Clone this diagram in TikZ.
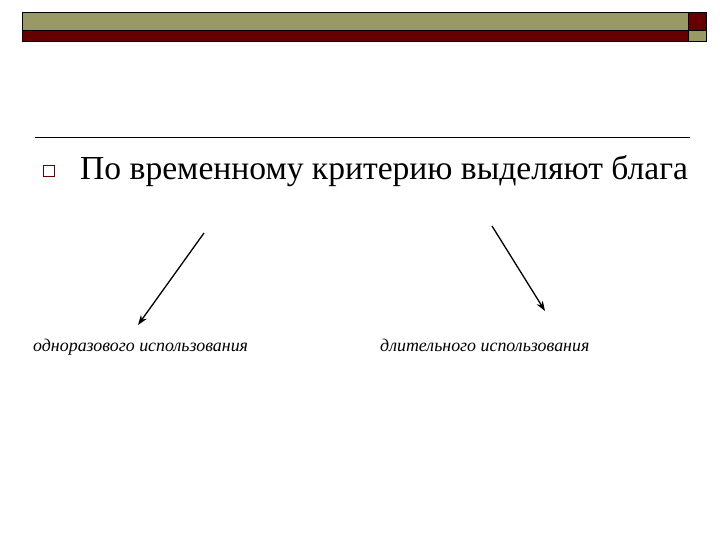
\documentclass[tikz,border=0pt]{standalone}
\usepackage{fontspec}
\setmainfont{Liberation Serif}
\usetikzlibrary{arrows.meta}
\definecolor{olive}{RGB}{153,153,102}
\definecolor{darkred}{RGB}{102,0,0}
\begin{document}
\begin{tikzpicture}[x=1pt,y=-1pt,
  bar/.style={draw=black,line width=0.8pt},
  arr/.style={draw=black,line width=1.3pt,-{Stealth[length=10pt,width=7pt]}},
  lbl/.style={font=\itshape\fontsize{17.9}{21}\selectfont,inner sep=0pt,anchor=base west}]
\useasboundingbox (0,0) rectangle (720,540);
\fill[white] (0,0) rectangle (720,540);
% header bars
\fill[olive] (22,12) rectangle (688,30);
\fill[darkred] (22,30) rectangle (688,41);
\fill[darkred] (688,12) rectangle (706,30);
\fill[olive] (688,30) rectangle (706,41);
\draw[bar] (22,12) rectangle (706,41);
\draw[bar] (22,30) -- (706,30);
\draw[bar] (688,12) -- (688,41);
% rule
\draw[line width=0.9pt] (35,137) -- (690,137);
% bullet
\node[draw=darkred,line width=1pt,minimum size=11pt,inner sep=0pt] (bul) at (49,171) {};
\node[font=\fontsize{33.6}{38}\selectfont,inner sep=0pt,anchor=base west] (title) at (80,180) {По временному критерию выделяют блага};
% labels
\node[lbl] (l1) at (33,351) {одноразового использования};
\node[lbl] (l2) at (380,351) {длительного использования};
\coordinate (a1) at (204,233);
\coordinate (b1) at (138,325);
\coordinate (a2) at (492,226);
\coordinate (b2) at (545,311);
\draw[arr] (a1) -- (b1);
\draw[arr] (a2) -- (b2);
\end{tikzpicture}
\end{document}
